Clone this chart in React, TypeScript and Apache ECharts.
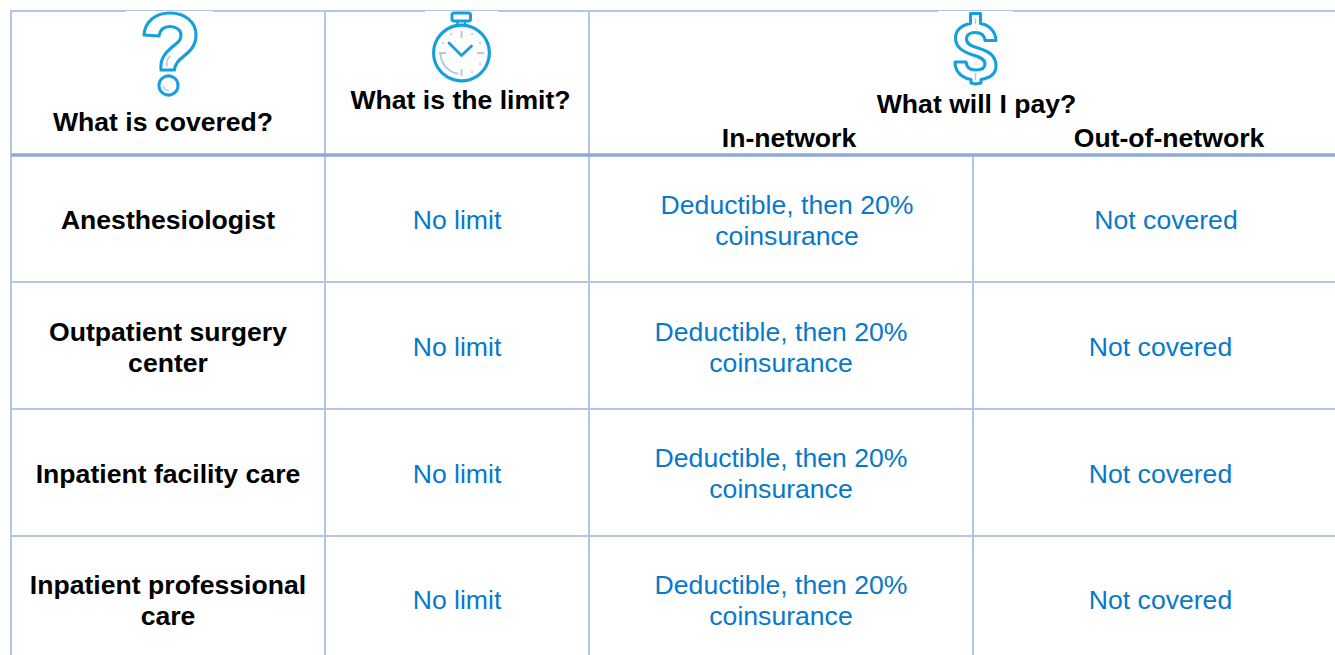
import React, { useEffect, useRef } from "react";
import * as echarts from "echarts";

const headers = ["What is covered?", "What is the limit?", "What will I pay?", "In-network", "Out-of-network"];
const services = ["Anesthesiologist", "Outpatient surgery\ncenter", "Inpatient facility care", "Inpatient professional\ncare"];
const limits = ["No limit", "No limit", "No limit", "No limit"];
const inNetwork = [
  "Deductible, then 20%\ncoinsurance",
  "Deductible, then 20%\ncoinsurance",
  "Deductible, then 20%\ncoinsurance",
  "Deductible, then 20%\ncoinsurance",
];
const outNetwork = ["Not covered", "Not covered", "Not covered", "Not covered"];

const singleLineY = [220, 347, 474, 600];
const doubleLineY = [220.5, 347.5, 473.5, 600.5];
const inCentres = [787, 781, 781, 781];
const outCentres = [1166, 1160.5, 1160.5, 1160.5];
const FONT = '"Liberation Sans", Arial, sans-serif';
const SIZE = 26.6;
const BLUE = "#0879c9";
const ICON = "#14a0dc";
const PALE = "#b5c9de";
const LINE = "#b4c6e7";
const THICK = "#8eaadb";

echarts.graphic.registerShape(
  "qmark",
  echarts.graphic.extendPath(
    "M144 35 C145 21 156 13 170 13 C185 13 196 22 196 35 C196 46 190 51 184 56 C178 61 175 64 174.5 70 L161 70 C160 60 164 54 171 48 C177 43 181 41 181 35 C181 30 176 26.5 170 26.5 C164 26.5 160 30 159 36 Z",
    {}
  )
);
echarts.graphic.registerShape(
  "dollar",
  echarts.graphic.extendPath(
    "M970.5 13.5 H980.5 V23.5 C989 25 995.5 31 996 40.5 H985 C984.5 35 980.5 32.5 975 32.5 C970 32.5 966.5 35 966.5 39 C966.5 44 971 46 978 48 C988 51 996 55 996 66 C996 73.5 990 78 981 79.5 V83 L975.5 84 L971 83 V79.5 C962 78 955 72 955 62 H966 C966.5 67 970 70 975.5 70 C981 70 985 68 985 64 C985 59 980 57 973 55 C964 52 955.5 48 955.5 38 C955.5 31 961 25 970.5 23.5 Z",
    {}
  )
);

function text(t: string, x: number, y: number, bold: boolean) {
  return {
    type: "text",
    x,
    y,
    silent: true,
    style: {
      text: t,
      x: 0,
      y: 0,
      align: "center",
      verticalAlign: "middle",
      font: `${bold ? "bold " : ""}${SIZE}px ${FONT}`,
      lineHeight: 31,
      fill: bold ? "#000000" : BLUE,
    },
  };
}

function line(x1: number, y1: number, x2: number, y2: number, color = LINE, w = 2) {
  return { type: "line", silent: true, shape: { x1, y1, x2, y2 }, style: { stroke: color, lineWidth: w } };
}

function stroke(color: string = ICON, w = 3.1) {
  return { fill: "none", stroke: color, lineWidth: w, lineCap: "round", lineJoin: "round" };
}

function buildGraphics() {
  const els: any[] = [];
  // grid
  [11, 325, 589].forEach((x) => els.push(line(x, 11, x, 655)));
  els.push(line(973, 155, 973, 655));
  els.push(line(10, 11, 1335, 11));
  [282, 409, 536].forEach((y) => els.push(line(11, y, 1335, y)));
  els.push(line(11, 155, 1335, 155, THICK, 3.5));
  // icon backgrounds trimming the lower half of the top rule
  [[126, 87], [425, 73], [938, 75]].forEach(([x, w]) =>
    els.push({ type: "rect", silent: true, shape: { x, y: 11, width: w, height: 2 }, style: { fill: "#ffffff" } })
  );
  // question mark
  els.push({ type: "qmark", silent: true, style: stroke() });
  els.push({ type: "circle", silent: true, shape: { cx: 168.5, cy: 85.5, r: 9.5 }, style: stroke() });
  els.push({ type: "bezierCurve", silent: true, shape: { x1: 167, y1: 66, x2: 170, y2: 56, cpx1: 166.5, cpy1: 62, cpx2: 168, cpy2: 58 }, style: stroke(PALE, 1.6) });
  els.push({ type: "arc", silent: true, shape: { cx: 168.5, cy: 85.5, r: 5, startAngle: 1.6, endAngle: 3 }, style: stroke(PALE, 1.4) });
  // stopwatch
  els.push({ type: "rect", silent: true, shape: { x: 452, y: 13, width: 18.5, height: 8, r: 2 }, style: stroke(ICON, 3) });
  els.push(line(457.5, 21, 457.5, 25, ICON, 2.4), line(465, 21, 465, 25, ICON, 2.4));
  els.push({ type: "circle", silent: true, shape: { cx: 461.5, cy: 53, r: 27.9 }, style: stroke() });
  els.push({ type: "polyline", silent: true, shape: { points: [[449, 43], [461.5, 55.5], [471.5, 46]] }, style: stroke(ICON, 2.8) });
  els.push(line(461.5, 31, 461.5, 38, PALE, 2), line(461.5, 69, 461.5, 76, PALE, 2));
  els.push(line(439, 53, 446, 53, PALE, 2), line(477, 53, 484, 53, PALE, 2));
  [[451, 34], [472, 34], [443, 43], [480, 43], [480, 64], [472, 72]].forEach(([cx, cy]) =>
    els.push({ type: "circle", silent: true, shape: { cx, cy, r: 1 }, style: { fill: PALE } })
  );
  els.push({ type: "arc", silent: true, shape: { cx: 461.5, cy: 53, r: 21, startAngle: 1.75, endAngle: 3.1 }, style: stroke(PALE, 2) });
  // dollar
  els.push({ type: "dollar", silent: true, style: stroke() });
  els.push(line(975.5, 18, 975.5, 24, PALE, 1.4), line(975.5, 73, 975.5, 80, PALE, 1.4));
  // headers
  els.push(text(headers[0], 163, 122, true));
  els.push(text(headers[1], 460.5, 100, true));
  els.push(text(headers[2], 976.5, 104, true));
  els.push(text(headers[3], 789, 138, true));
  els.push(text(headers[4], 1169, 138, true));
  // rows
  services.forEach((s, i) => {
    const twoLines = s.includes("\n");
    els.push(text(s, 168, twoLines ? doubleLineY[i] : singleLineY[i], true));
    els.push(text(limits[i], 457, singleLineY[i], false));
    els.push(text(inNetwork[i], inCentres[i], doubleLineY[i], false));
    els.push(text(outNetwork[i], outCentres[i], singleLineY[i], false));
  });
  return els;
}

export default function App() {
  const ref = useRef<HTMLDivElement>(null);
  useEffect(() => {
    document.body.style.margin = "0";
    document.body.style.background = "#ffffff";
    const chart = echarts.init(ref.current!, null, { renderer: "svg" });
    chart.setOption({ animation: false, backgroundColor: "#ffffff", graphic: { elements: buildGraphics() } });
    return () => chart.dispose();
  }, []);
  return <div ref={ref} style={{ width: 1335, height: 655 }} />;
}
